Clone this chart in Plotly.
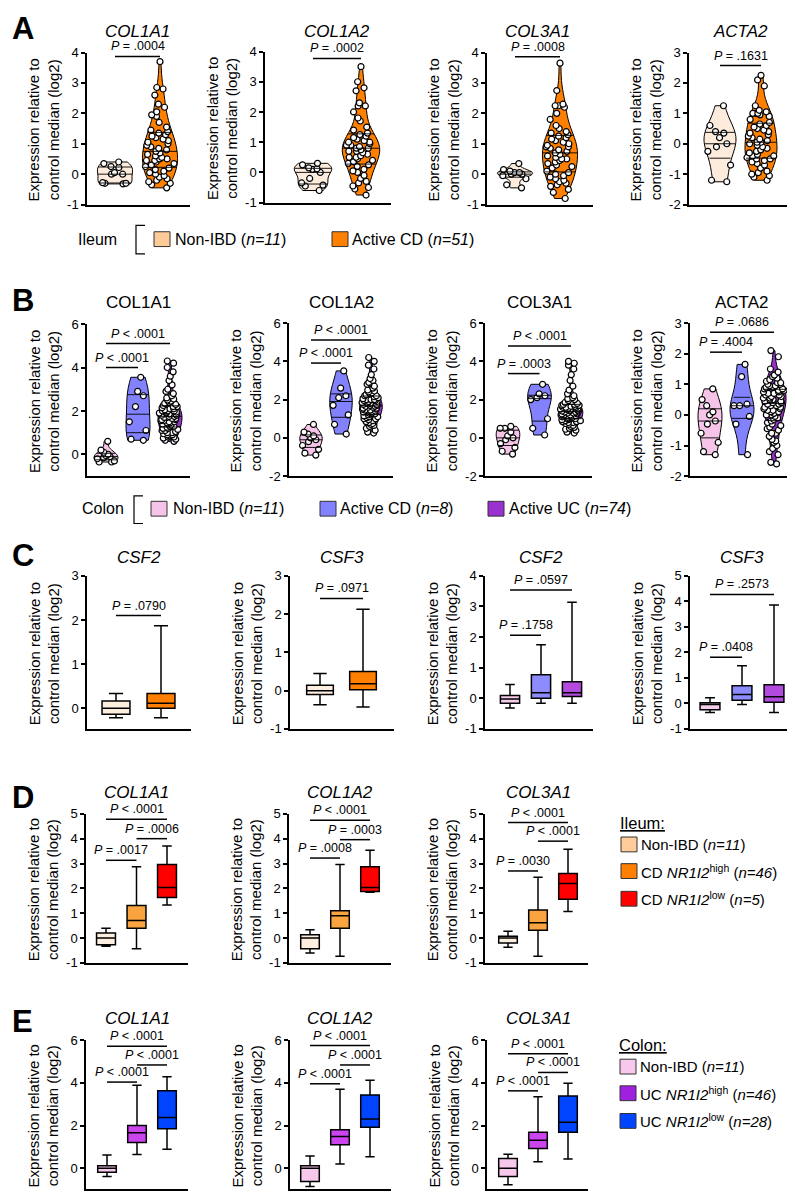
import numpy as np
import plotly.graph_objects as go

W, H = 795, 1192
FONT = "Arial, Liberation Sans, Helvetica, sans-serif"

# ----------------------------- DATA -----------------------------
# Panel A: ileum, violin plots (Non-IBD n=11, Active CD n=51)
a_genes = ["COL1A1", "COL1A2", "COL3A1", "ACTA2"]
a_nonibd_col1a1 = [0.4, 0.35, 0.25, 0.22, 0.05, 0.0, 0.0, -0.28, -0.3, -0.3, -0.32]
a_cd_col1a1 = [3.7, 2.85, 2.8, 2.6, 2.3, 2.2, 2.05, 1.95, 1.9, 1.7, 1.55, 1.45, 1.4, 1.35, 1.3,
               1.25, 1.2, 1.15, 1.1, 1.05, 1.0, 0.95, 0.9, 0.85, 0.8, 0.75, 0.7, 0.65, 0.6, 0.55,
               0.5, 0.5, 0.45, 0.45, 0.4, 0.35, 0.3, 0.25, 0.2, 0.15, 0.1, 0.05, 0.0, -0.05, -0.1,
               -0.15, -0.2, -0.25, -0.3, -0.35, -0.45]
a_nonibd_col1a2 = [0.3, 0.25, 0.15, 0.12, 0.1, 0.0, -0.2, -0.35, -0.42, -0.45, -0.6]
a_cd_col1a2 = [3.5, 3.0, 2.8, 2.7, 2.3, 2.2, 2.2, 2.0, 1.8, 1.7, 1.5, 1.4, 1.3, 1.2, 1.15,
               1.1, 1.05, 1.0, 1.0, 0.95, 0.9, 0.9, 0.85, 0.8, 0.8, 0.75, 0.7, 0.7, 0.65, 0.6,
               0.55, 0.5, 0.5, 0.45, 0.4, 0.35, 0.3, 0.25, 0.2, 0.1, 0.05, 0.0, -0.1, -0.2, -0.3,
               -0.35, -0.45, -0.5, -0.55, -0.75, 1.25]
a_nonibd_col3a1 = [0.35, 0.15, 0.1, 0.05, 0.05, 0.0, 0.0, -0.05, -0.15, -0.35, -0.45]
a_cd_col3a1 = [3.65, 2.75, 2.3, 2.25, 2.25, 2.2, 2.0, 1.8, 1.6, 1.4, 1.35, 1.3, 1.25, 1.2, 1.15,
               1.1, 1.05, 1.0, 0.95, 0.9, 0.9, 0.85, 0.8, 0.75, 0.7, 0.65, 0.6, 0.55, 0.5, 0.5,
               0.45, 0.4, 0.35, 0.3, 0.25, 0.2, 0.1, 0.05, 0.0, -0.05, -0.1, -0.15, -0.2, -0.25,
               -0.3, -0.35, -0.4, -0.5, -0.6, -0.8, 1.5]
a_nonibd_acta2 = [1.25, 0.6, 0.4, 0.35, 0.2, 0.0, -0.1, -0.25, -0.7, -1.2, -1.25]
a_cd_acta2 = [2.25, 2.1, 1.9, 1.25, 1.1, 1.05, 1.0, 1.0, 1.0, 0.95, 0.9, 0.8, 0.7, 0.65, 0.6,
              0.5, 0.45, 0.4, 0.35, 0.3, 0.25, 0.2, 0.15, 0.1, 0.05, 0.05, 0.0, -0.05, -0.1,
              -0.15, -0.2, -0.25, -0.3, -0.35, -0.4, -0.4, -0.45, -0.5, -0.5, -0.55, -0.6,
              -0.65, -0.7, -0.8, -0.9, -0.95, -1.0, -1.05, -1.1, -1.2, 0.55]

# Panel B: colon, violin plots (Non-IBD n=11, Active CD n=8, Active UC n=74)
b_genes = ["COL1A1", "COL1A2", "COL3A1", "ACTA2"]
b_nonibd_col1a1 = [0.6, 0.2, 0.1, 0.0, -0.05, -0.1, -0.15, -0.2, -0.3, -0.35, -0.35]
b_cd_col1a1 = [3.55, 2.9, 2.7, 2.2, 1.5, 1.1, 0.7, 0.65]
b_uc_col1a1 = [4.3, 4.2, 4.0, 3.8, 3.6, 3.4, 3.2, 3.0, 2.9, 2.8, 2.7, 2.6, 2.55, 2.5, 2.45,
               2.4, 2.35, 2.3, 2.25, 2.2, 2.15, 2.1, 2.05, 2.0, 2.0, 1.95, 1.9, 1.9, 1.85, 1.8,
               1.8, 1.75, 1.7, 1.7, 1.65, 1.6, 1.6, 1.55, 1.5, 1.5, 1.45, 1.4, 1.4, 1.35, 1.3,
               1.3, 1.25, 1.2, 1.2, 1.15, 1.1, 1.1, 1.05, 1.0, 1.0, 0.95, 0.9, 0.9, 0.85, 0.8,
               0.8, 0.75, 0.7, 0.65, 0.6, 1.75, 1.85, 1.65, 2.0, 2.2, 1.55, 1.45, 1.95, 2.1]
b_nonibd_col1a2 = [0.7, 0.3, 0.2, 0.1, 0.0, -0.1, -0.2, -0.4, -0.6, -0.8, -0.9]
b_cd_col1a2 = [3.5, 2.6, 2.2, 2.1, 1.7, 1.2, 0.7, 0.2]
b_uc_col1a2 = [4.2, 4.0, 3.8, 3.6, 3.3, 3.1, 2.9, 2.7, 2.6, 2.5, 2.45, 2.4, 2.3, 2.25, 2.2,
               2.15, 2.1, 2.05, 2.0, 2.0, 1.95, 1.9, 1.9, 1.85, 1.8, 1.8, 1.75, 1.7, 1.7, 1.65,
               1.6, 1.6, 1.55, 1.5, 1.5, 1.45, 1.4, 1.4, 1.35, 1.3, 1.3, 1.25, 1.2, 1.15, 1.1,
               1.05, 1.0, 1.0, 0.95, 0.9, 0.85, 0.8, 0.75, 0.7, 0.6, 0.5, 0.4, 0.3, 0.25, 1.75,
               1.85, 1.65, 2.0, 1.55, 1.45, 1.95, 1.35, 2.2, 2.35, 1.25, 1.1, 0.65, 2.8, 3.0]
b_nonibd_col3a1 = [0.6, 0.5, 0.5, 0.3, 0.1, 0.0, -0.1, -0.3, -0.5, -0.7, -0.85]
b_cd_col3a1 = [2.8, 2.3, 2.2, 2.1, 2.0, 1.0, 0.5, 0.15]
b_uc_col3a1 = [4.0, 3.9, 3.8, 3.6, 3.3, 3.0, 2.7, 2.5, 2.3, 2.2, 2.1, 2.0, 1.95, 1.9, 1.85,
               1.8, 1.75, 1.7, 1.7, 1.65, 1.6, 1.6, 1.55, 1.5, 1.5, 1.45, 1.45, 1.4, 1.4, 1.35,
               1.3, 1.3, 1.25, 1.2, 1.2, 1.15, 1.1, 1.1, 1.05, 1.0, 1.0, 0.95, 0.9, 0.9, 0.85,
               0.8, 0.8, 0.75, 0.7, 0.65, 0.6, 0.55, 0.5, 0.45, 0.4, 0.3, 0.25, 1.55, 1.65, 1.35,
               1.25, 1.15, 1.05, 0.95, 1.5, 1.4, 1.6, 1.75, 1.9, 0.85, 1.0, 1.2, 1.3, 2.05]
b_nonibd_acta2 = [0.85, 0.5, 0.3, 0.1, 0.0, -0.2, -0.3, -0.6, -0.9, -1.2, -1.3]
b_cd_acta2 = [1.65, 1.25, 0.35, 0.3, 0.3, -0.05, -0.3, -1.3]
b_uc_acta2 = [2.1, 1.9, 1.5, 1.4, 1.3, 1.2, 1.15, 1.1, 1.05, 1.0, 1.0, 0.95, 0.9, 0.9, 0.85,
              0.8, 0.8, 0.75, 0.7, 0.7, 0.65, 0.6, 0.6, 0.55, 0.5, 0.5, 0.45, 0.4, 0.4, 0.35,
              0.3, 0.3, 0.25, 0.2, 0.2, 0.15, 0.1, 0.1, 0.05, 0.0, 0.0, -0.05, -0.1, -0.15,
              -0.2, -0.25, -0.3, -0.35, -0.4, -0.45, -0.5, -0.6, -0.7, -0.8, -0.85, -0.9, -1.0,
              -1.1, -1.2, -1.3, -1.55, -1.6, 0.95, 0.85, 0.75, 1.05, 0.65, 0.55, 0.45, 0.35,
              0.25, 0.15, -0.6, 1.25]

# Panel C: box plots (min, q1, median, q3, max) per group
c_genes = ["CSF2", "CSF3", "CSF2", "CSF3"]
c1_low = [-0.22, -0.22]; c1_q1 = [-0.14, 0.0]; c1_med = [0.0, 0.11]; c1_q3 = [0.16, 0.33]; c1_high = [0.33, 1.87]
c2_low = [-0.37, -0.43]; c2_q1 = [-0.1, 0.02]; c2_med = [0.0, 0.18]; c2_q3 = [0.14, 0.5]; c2_high = [0.45, 2.13]
c3_low = [-0.32, -0.16, -0.16]; c3_q1 = [-0.16, 0.0, 0.06]; c3_med = [-0.02, 0.18, 0.18]
c3_q3 = [0.09, 0.77, 0.54]; c3_high = [0.45, 1.75, 3.14]
c4_low = [-0.36, -0.04, -0.36]; c4_q1 = [-0.25, 0.12, 0.04]; c4_med = [-0.04, 0.35, 0.26]
c4_q3 = [0.03, 0.69, 0.73]; c4_high = [0.22, 1.48, 3.86]

# Panel D: ileum by NR1I2 (Non-IBD, CD NR1I2 high, CD NR1I2 low)
d_genes = ["COL1A1", "COL1A2", "COL3A1"]
d1_low = [-0.33, -0.43, 1.33]; d1_q1 = [-0.27, 0.4, 1.63]; d1_med = [0.0, 0.71, 2.03]
d1_q3 = [0.2, 1.31, 2.96]; d1_high = [0.4, 2.87, 3.7]
d2_low = [-0.6, -0.73, 1.84]; d2_q1 = [-0.43, 0.4, 1.87]; d2_med = [0.0, 0.9, 2.03]
d2_q3 = [0.13, 1.1, 2.87]; d2_high = [0.33, 2.96, 3.53]
d3_low = [-0.37, -0.73, 1.07]; d3_q1 = [-0.2, 0.31, 1.56]; d3_med = [0.0, 0.62, 2.2]
d3_q3 = [0.07, 1.13, 2.6]; d3_high = [0.27, 2.45, 3.57]

# Panel E: colon by NR1I2 (Non-IBD, UC NR1I2 high, UC NR1I2 low)
e_genes = ["COL1A1", "COL1A2", "COL3A1"]
e1_low = [-0.38, 0.65, 0.89]; e1_q1 = [-0.18, 1.2, 1.85]; e1_med = [0.0, 1.66, 2.38]
e1_q3 = [0.12, 2.0, 3.62]; e1_high = [0.62, 3.88, 4.28]
e2_low = [-0.85, 0.2, 0.54]; e2_q1 = [-0.62, 1.1, 1.92]; e2_med = [0.0, 1.49, 2.31]
e2_q3 = [0.12, 1.8, 3.43]; e2_high = [0.58, 3.7, 4.12]
e3_low = [-0.77, 0.31, 0.43]; e3_q1 = [-0.38, 0.92, 1.69]; e3_med = [0.0, 1.31, 2.15]
e3_q3 = [0.46, 1.69, 3.38]; e3_high = [0.66, 3.35, 3.97]

# P values: (group a, group b, bracket height, label)
pv_a = [[(0, 1, 3.87, "= .0004")], [(0, 1, 3.77, "= .0002")],
        [(0, 1, 3.86, "= .0008")], [(0, 1, 2.57, "= .1631")]]
pv_b = [[(0, 1, 4.0, "< .0001"), (0, 2, 5.1, "< .0001")],
        [(0, 1, 3.91, "< .0001"), (0, 2, 5.12, "< .0001")],
        [(0, 1, 3.36, "= .0003"), (0, 2, 4.8, "< .0001")],
        [(0, 1, 2.05, "= .4004"), (0, 2, 2.7, "= .0686")]]
pv_c = [[(0, 1, 2.1, "= .0790")], [(0, 1, 2.41, "= .0971")],
        [(0, 1, 2.06, "= .1758"), (0, 2, 3.54, "= .0597")],
        [(0, 1, 1.81, "= .0408"), (0, 2, 4.27, "= .2573")]]
pv_d = [[(0, 1, 3.13, "= .0017"), (1, 2, 4.0, "= .0006"), (0, 2, 4.78, "< .0001")],
        [(0, 1, 3.22, "= .0008"), (1, 2, 3.96, "= .0003"), (0, 2, 4.74, "< .0001")],
        [(0, 1, 2.7, "= .0030"), (1, 2, 3.9, "< .0001"), (0, 2, 4.65, "< .0001")]]
pv_e = [[(0, 1, 4.03, "< .0001"), (1, 2, 4.83, "< .0001"), (0, 2, 5.7, "< .0001")],
        [(0, 1, 3.95, "< .0001"), (1, 2, 4.83, "< .0001"), (0, 2, 5.74, "< .0001")],
        [(0, 1, 3.62, "< .0001"), (1, 2, 4.48, "< .0001"), (0, 2, 5.36, "< .0001")]]

# Colours
col_il_non = "#FDEBDB"; col_il_cd = "#FF7F00"
col_co_non = "#F6C4E8"; col_co_cd = "#8282FF"; col_co_uc = "#9B30D0"
col_d_non = "#FDEFE0"; col_d_hi = "#F9A441"; col_d_lo = "#FF0000"
col_c_non = "#FDEFE0"; col_c_cd = "#FF8000"
col_cc_non = "#F5CCEA"; col_cc_cd = "#8C8CFF"; col_cc_uc = "#B24ADD"
col_e_non = "#F8C8EC"; col_e_hi = "#CC44EE"; col_e_lo = "#0044FF"

# ----------------------------- LAYOUT GEOMETRY (pixels) -----------------------------
geom = {
    "A1": dict(x0=79, x1=182, yt=38, yb=192, yr=(-1, 4), ticks=[-1, 0, 1, 2, 3, 4], centers=[107, 152]),
    "A2": dict(x0=257, x1=383, yt=37, yb=190, yr=(-1, 4), ticks=[-1, 0, 1, 2, 3, 4], centers=[305, 353]),
    "A3": dict(x0=479, x1=585, yt=38, yb=192, yr=(-1, 4), ticks=[-1, 0, 1, 2, 3, 4], centers=[507, 552]),
    "A4": dict(x0=681, x1=780, yt=38, yb=192, yr=(-2, 3), ticks=[-2, -1, 0, 1, 2, 3], centers=[712, 753]),
    "B1": dict(x0=79, x1=182, yt=313, yb=467, yr=(-1, 6), ticks=[0, 2, 4, 6], centers=[98, 128, 162]),
    "B2": dict(x0=281, x1=385, yt=312, yb=467, yr=(-2, 6), ticks=[-2, 0, 2, 4, 6], centers=[303, 333, 363]),
    "B3": dict(x0=477, x1=584, yt=312, yb=467, yr=(-2, 6), ticks=[-2, 0, 2, 4, 6], centers=[500, 531, 563]),
    "B4": dict(x0=682, x1=786, yt=312, yb=467, yr=(-2, 3), ticks=[-2, -1, 0, 1, 2, 3], centers=[702, 733, 766]),
    "C1": dict(x0=79, x1=183, yt=568, yb=723, yr=(-0.47, 3), ticks=[0, 1, 2, 3], centers=[108, 153]),
    "C2": dict(x0=282, x1=386, yt=568, yb=723, yr=(-1, 3), ticks=[-1, 0, 1, 2, 3], centers=[312, 355]),
    "C3": dict(x0=477, x1=585, yt=568, yb=723, yr=(-1, 4), ticks=[-1, 0, 1, 2, 3, 4], centers=[502, 533, 564]),
    "C4": dict(x0=682, x1=787, yt=568, yb=723, yr=(-1, 5), ticks=[-1, 0, 1, 2, 3, 4, 5], centers=[702, 734, 766]),
    "D1": dict(x0=78, x1=180, yt=809, yb=960, yr=(-1, 5), ticks=[-1, 0, 1, 2, 3, 4, 5], centers=[98, 128, 159]),
    "D2": dict(x0=281, x1=383, yt=809, yb=960, yr=(-1, 5), ticks=[-1, 0, 1, 2, 3, 4, 5], centers=[302, 332, 362]),
    "D3": dict(x0=477, x1=580, yt=809, yb=960, yr=(-1, 5), ticks=[-1, 0, 1, 2, 3, 4, 5], centers=[500, 530, 560]),
    "E1": dict(x0=78, x1=180, yt=1038, yb=1189, yr=(-0.97, 6), ticks=[0, 2, 4, 6], centers=[99, 128, 159]),
    "E2": dict(x0=282, x1=383, yt=1038, yb=1189, yr=(-0.97, 6), ticks=[0, 2, 4, 6], centers=[302, 332, 362]),
    "E3": dict(x0=479, x1=580, yt=1038, yb=1189, yr=(-0.97, 6), ticks=[0, 2, 4, 6], centers=[500, 530, 560]),
}
title_y = {"A": 17, "B": 291, "C": 549, "D": 787, "E": 1016}

fig = go.Figure()
layout = dict(width=W, height=H, margin=dict(l=0, r=0, t=0, b=0),
              paper_bgcolor="white", plot_bgcolor="white", showlegend=False,
              font=dict(family=FONT, color="black"))
shapes, annos = [], []
axis_ids = {}


def px_x(p):
    return p / W


def px_y(p):
    return 1 - p / H


def setup_axes(key, idx):
    g = geom[key]
    c = g["centers"]
    n = len(c)
    s = (c[-1] - c[0]) / (n - 1)
    lo = (g["x0"] - c[0]) / s
    hi = (n - 1) + (g["x1"] - c[-1]) / s
    g["xr"] = (lo, hi)
    suf = "" if idx == 1 else str(idx)
    layout["xaxis" + suf] = dict(domain=[px_x(g["x0"]), px_x(g["x1"])], range=[lo, hi],
                                anchor="y" + suf, showline=True, linecolor="black", linewidth=1.5,
                                showticklabels=False, ticks="", showgrid=False, zeroline=False,
                                fixedrange=True)
    layout["yaxis" + suf] = dict(domain=[px_y(g["yb"]), px_y(g["yt"])], range=list(g["yr"]),
                                anchor="x" + suf, showline=True, linecolor="black", linewidth=1.5,
                                ticks="outside", ticklen=4, tickwidth=1.5, tickcolor="black",
                                tickvals=g["ticks"], ticktext=[str(t) for t in g["ticks"]],
                                tickfont=dict(size=13, family=FONT), showgrid=False,
                                zeroline=False, fixedrange=True)
    axis_ids[key] = ("x" + suf, "y" + suf)


def to_px(key, gx, vy):
    g = geom[key]
    lo, hi = g["xr"]
    xp = g["x0"] + (gx - lo) / (hi - lo) * (g["x1"] - g["x0"])
    ylo, yhi = g["yr"]
    yp = g["yb"] - (vy - ylo) / (yhi - ylo) * (g["yb"] - g["yt"])
    return xp, yp


def decorate(key, title, italic, pvals):
    g = geom[key]
    c = g["centers"]
    tx = (c[0] + c[-1]) / 2
    t = "<i>%s</i>" % title if italic else title
    annos.append(dict(text=t, x=px_x(tx), y=px_y(title_y[key[0]]), xref="paper", yref="paper",
                      showarrow=False, xanchor="center", yanchor="middle",
                      font=dict(size=17, family=FONT)))
    annos.append(dict(text="Expression relative to<br>control median (log2)", textangle=-90,
                      x=px_x(g["x0"] - 43), y=px_y((g["yt"] + g["yb"]) / 2 + 2),
                      xref="paper", yref="paper", showarrow=False, xanchor="center",
                      yanchor="middle", font=dict(size=15, family=FONT)))
    for ga, gb, hy, lab in pvals:
        xa, yp = to_px(key, ga, hy)
        xb, _ = to_px(key, gb, hy)
        shapes.append(dict(type="line", xref="paper", yref="paper", x0=px_x(xa), x1=px_x(xb),
                           y0=px_y(yp), y1=px_y(yp), line=dict(color="black", width=1.5)))
        annos.append(dict(text="<i>P</i> " + lab, x=px_x((xa + xb) / 2), y=px_y(yp - 1),
                          xref="paper", yref="paper", showarrow=False, xanchor="center",
                          yanchor="bottom", font=dict(size=12.5, family=FONT)))


def kde_halfwidths(vals, ys, width):
    """Half widths of a plotly-style violin (Silverman bandwidth, scalemode='width')."""
    v = np.asarray(vals, dtype=float)
    n = len(v)
    ssd = v.std(ddof=1)
    q1, q3 = np.percentile(v, [25, 75])
    a = min(ssd, (q3 - q1) / 1.349) if (q3 - q1) > 0 else ssd
    bw = 1.059 * a * n ** -0.2
    grid = np.linspace(v.min(), v.max(), 300)

    def dens(y):
        return np.exp(-0.5 * ((y - v) / bw) ** 2).sum()

    mx = max(dens(y) for y in grid)
    return [width / 2 * dens(y) / mx for y in ys]


def add_violins(key, idx, groups, colors, width):
    setup_axes(key, idx)
    xa, ya = axis_ids[key]
    for gi, (vals, col) in enumerate(zip(groups, colors)):
        fig.add_trace(go.Violin(x=[gi] * len(vals), y=vals, xaxis=xa, yaxis=ya,
                                fillcolor=col, line=dict(color="black", width=1),
                                points="all", pointpos=0, jitter=0.9, spanmode="hard",
                                width=width, scalemode="width", box_visible=False,
                                meanline_visible=False, opacity=1,
                                marker=dict(color="white", size=6,
                                            line=dict(color="black", width=1.2)),
                                hoveron="points"))
    # median and quartile lines
    for gi, vals in enumerate(groups):
        qs = list(np.percentile(vals, [25, 50, 75]))
        hws = kde_halfwidths(vals, qs, width)
        xs, ysl = [], []
        for q, hw in zip(qs, hws):
            xs += [gi - hw, gi + hw, None]
            ysl += [q, q, None]
        fig.add_trace(go.Scatter(x=xs, y=ysl, xaxis=xa, yaxis=ya, mode="lines",
                                 line=dict(color="black", width=0.9), hoverinfo="skip"))


def add_boxes(key, idx, low, q1, med, q3, high, colors):
    setup_axes(key, idx)
    xa, ya = axis_ids[key]
    for gi, col in enumerate(colors):
        fig.add_trace(go.Box(x=[gi], lowerfence=[low[gi]], q1=[q1[gi]], median=[med[gi]],
                             q3=[q3[gi]], upperfence=[high[gi]], xaxis=xa, yaxis=ya,
                             fillcolor=col, line=dict(color="black", width=1.5),
                             width=0.62, whiskerwidth=0.5, boxpoints=False))


idx = 1
a_sets = [(a_nonibd_col1a1, a_cd_col1a1), (a_nonibd_col1a2, a_cd_col1a2),
          (a_nonibd_col3a1, a_cd_col3a1), (a_nonibd_acta2, a_cd_acta2)]
for i, (gene, sets) in enumerate(zip(a_genes, a_sets)):
    key = "A%d" % (i + 1)
    add_violins(key, idx, list(sets), [col_il_non, col_il_cd], 0.78)
    decorate(key, gene, True, pv_a[i])
    idx += 1
b_sets = [(b_nonibd_col1a1, b_cd_col1a1, b_uc_col1a1), (b_nonibd_col1a2, b_cd_col1a2, b_uc_col1a2),
          (b_nonibd_col3a1, b_cd_col3a1, b_uc_col3a1), (b_nonibd_acta2, b_cd_acta2, b_uc_acta2)]
for i, (gene, sets) in enumerate(zip(b_genes, b_sets)):
    key = "B%d" % (i + 1)
    add_violins(key, idx, list(sets), [col_co_non, col_co_cd, col_co_uc], 0.75)
    decorate(key, gene, False, pv_b[i])
    idx += 1
c_stats = [(c1_low, c1_q1, c1_med, c1_q3, c1_high, [col_c_non, col_c_cd]),
           (c2_low, c2_q1, c2_med, c2_q3, c2_high, [col_c_non, col_c_cd]),
           (c3_low, c3_q1, c3_med, c3_q3, c3_high, [col_cc_non, col_cc_cd, col_cc_uc]),
           (c4_low, c4_q1, c4_med, c4_q3, c4_high, [col_cc_non, col_cc_cd, col_cc_uc])]
for i, (gene, st) in enumerate(zip(c_genes, c_stats)):
    key = "C%d" % (i + 1)
    add_boxes(key, idx, *st)
    decorate(key, gene, True, pv_c[i])
    idx += 1
d_stats = [(d1_low, d1_q1, d1_med, d1_q3, d1_high), (d2_low, d2_q1, d2_med, d2_q3, d2_high),
           (d3_low, d3_q1, d3_med, d3_q3, d3_high)]
for i, (gene, st) in enumerate(zip(d_genes, d_stats)):
    key = "D%d" % (i + 1)
    add_boxes(key, idx, *st, [col_d_non, col_d_hi, col_d_lo])
    decorate(key, gene, True, pv_d[i])
    idx += 1
e_stats = [(e1_low, e1_q1, e1_med, e1_q3, e1_high), (e2_low, e2_q1, e2_med, e2_q3, e2_high),
           (e3_low, e3_q1, e3_med, e3_q3, e3_high)]
for i, (gene, st) in enumerate(zip(e_genes, e_stats)):
    key = "E%d" % (i + 1)
    add_boxes(key, idx, *st, [col_e_non, col_e_hi, col_e_lo])
    decorate(key, gene, True, pv_e[i])
    idx += 1

for letter, yy in [("A", 14), ("B", 289), ("C", 547), ("D", 792), ("E", 1019)]:
    annos.append(dict(text="<b>%s</b>" % letter, x=px_x(2), y=px_y(yy), xref="paper",
                      yref="paper", showarrow=False, xanchor="left", yanchor="middle",
                      font=dict(size=31, family=FONT)))


def legend_text(text, xpx, ypx, size=16):
    annos.append(dict(text=text, x=px_x(xpx), y=px_y(ypx), xref="paper", yref="paper",
                      showarrow=False, xanchor="left", yanchor="middle",
                      font=dict(size=size, family=FONT)))


def legend_box(xpx, ypx, col):
    shapes.append(dict(type="rect", xref="paper", yref="paper", x0=px_x(xpx), x1=px_x(xpx + 16),
                       y0=px_y(ypx + 7.5), y1=px_y(ypx - 7.5), fillcolor=col,
                       line=dict(color="#333333", width=1)))


def bracket(xpx, ytop, ybot):
    path = "M %f,%f L %f,%f L %f,%f L %f,%f" % (px_x(xpx + 9), px_y(ytop), px_x(xpx), px_y(ytop),
                                                  px_x(xpx), px_y(ybot), px_x(xpx + 9), px_y(ybot))
    shapes.append(dict(type="path", xref="paper", yref="paper", path=path,
                       line=dict(color="black", width=1.2)))


# Legend A
legend_text("Ileum", 68, 227)
bracket(128, 213, 242)
legend_box(146, 227, "#FDCB97")
legend_text("Non-IBD (<i>n=11</i>)", 165, 227)
legend_box(324, 227, col_il_cd)
legend_text("Active CD (<i>n=51</i>)", 342, 227)

# Legend B
legend_text("Colon", 72, 500)
bracket(126, 487, 515)
legend_box(143, 500, col_co_non)
legend_text("Non-IBD (<i>n=11</i>)", 163, 500)
legend_box(312, 500, col_co_cd)
legend_text("Active CD (<i>n=8</i>)", 330, 500)
legend_box(480, 500, col_co_uc)
legend_text("Active UC (<i>n=74</i>)", 499, 500)

# Legend D
legend_text("<u>Ileum:</u>", 610, 818, 16.5)
for yy, col, txt in [(840, "#FFCC99", "Non-IBD (<i>n=11</i>)"),
                     (867, "#FF8000", "CD <i>NR1I2</i><sup>high</sup> (<i>n=46</i>)"),
                     (895, "#FF0000", "CD <i>NR1I2</i><sup>low</sup> (<i>n=5</i>)")]:
    legend_box(613, yy, col)
    legend_text(txt, 631, yy, 15)

# Legend E
legend_text("<u>Colon:</u>", 609, 1043, 16.5)
for yy, col, txt in [(1065, "#F8C8EC", "Non-IBD (<i>n=11</i>)"),
                     (1092, "#A020E0", "UC <i>NR1I2</i><sup>high</sup> (<i>n=46</i>)"),
                     (1120, "#0044FF", "UC <i>NR1I2</i><sup>low</sup> (<i>n=28</i>)")]:
    legend_box(612, yy, col)
    legend_text(txt, 630, yy, 15)

layout["shapes"] = shapes
layout["annotations"] = annos
fig.update_layout(**layout)
fig.write_html("out.html")
